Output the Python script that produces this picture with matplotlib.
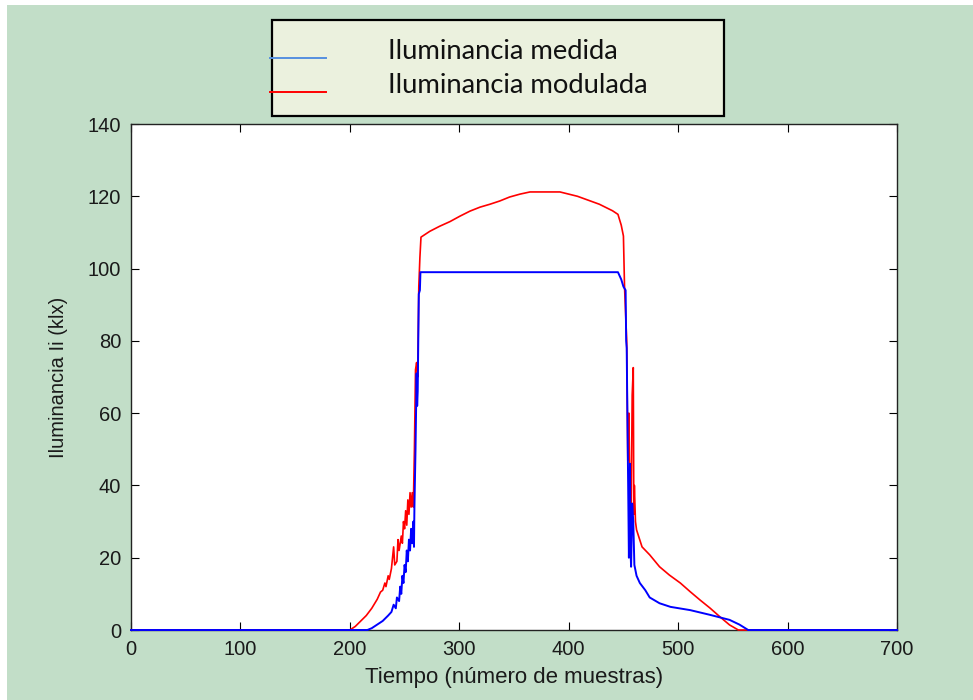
import matplotlib
matplotlib.use("Agg")
import matplotlib.pyplot as plt
from matplotlib.patches import Rectangle
from matplotlib.lines import Line2D

# --------------------------------------------------------------------------------------
# values (sample index vs klx)
MEDIDA_X = [0, 216, 220, 225, 230, 235, 238, 240, 242, 243, 245, 246, 247, 248, 249,
            250, 251, 252, 253, 254, 255, 256, 257, 258, 258.6, 259, 259.5, 260, 261,
            261.5, 262, 263, 264, 264.5,
            445, 448, 450, 452, 452.5, 453, 453.5, 454.5, 455, 455.5, 456, 456.5, 457,
            458, 459, 460, 462, 465, 470, 474, 483, 493, 511, 529, 547, 556, 564, 700]
MEDIDA_Y = [0, 0, 0.5, 1.5, 2.5, 4, 5, 7, 6, 9, 8, 12, 10, 15, 13,
            18, 16, 22, 19, 25, 22, 28, 24, 30, 23, 34, 42, 50, 71,
            62, 66, 93, 94, 99,
            99, 97, 95, 94, 80, 78, 63, 35, 20, 33, 46, 22, 17.5,
            35, 30, 18, 15, 13, 11, 9, 7.4, 6.4, 5.5, 4.2, 2.8, 1.5, 0, 0]

MODULADA_X = [0, 200, 205, 210, 215, 220, 225, 228, 230, 232, 233, 235, 236, 238, 240,
              241, 243, 244, 245, 247, 248, 249, 250, 251, 252, 253, 254, 255, 256,
              257, 258, 259, 260, 261, 262, 263, 264, 265,
              273, 282, 291.5, 300.6, 309.8, 319, 328, 337, 346, 355.5, 364.6, 392,
              408, 428, 440, 445, 448, 450, 451, 453, 454, 455, 456, 457, 458, 459,
              459.5, 460, 461, 462, 467, 474, 483, 492, 502, 511, 520, 529, 538, 547,
              555, 700]
MODULADA_Y = [0, 0, 1, 2.5, 4, 6, 8.5, 10.5, 11, 13, 12, 15, 14, 17, 23,
              18, 19, 25, 22, 26, 24, 30, 28, 33, 29, 36, 32, 38, 34,
              38, 34, 50, 72, 74, 70, 95, 103, 108.7,
              110.3, 111.7, 113, 114.5, 115.9, 117, 117.8, 118.7, 119.8, 120.6, 121.2, 121.2,
              120, 117.8, 116, 115, 112, 109, 95, 80, 47, 60, 35, 30, 65, 72.6,
              32, 40, 30, 27.7, 23, 20.8, 17.5, 15.2, 13, 10.6, 8.3, 6.1, 3.7, 1.4,
              0, 0]

LEGEND_LABELS = ["Iluminancia medida", "Iluminancia modulada"]
X_TICKS = [0, 100, 200, 300, 400, 500, 600, 700]
Y_TICKS = [0, 20, 40, 60, 80, 100, 120, 140]

BG = "#c2dec8"
LEG_BG = "#ebf1de"

fig = plt.figure(figsize=(9.73, 7.0), dpi=100, facecolor=BG)
# thin white margin on the left and top of the screenshot
fig.patches.append(Rectangle((0, 0), 7 / 973, 1, transform=fig.transFigure,
                             facecolor="white", edgecolor="none", zorder=0))
fig.patches.append(Rectangle((0, 1 - 5 / 700), 1, 5 / 700, transform=fig.transFigure,
                             facecolor="white", edgecolor="none", zorder=0))

ax = fig.add_axes([131 / 973, 70 / 700, 766 / 973, 506 / 700])
ax.set_facecolor("white")
# lines above the spines so the zero stretch stays visible along the bottom axis
ax.plot(MODULADA_X, MODULADA_Y, color="#ff0000", lw=1.2, clip_on=False, zorder=3)
ax.plot(MEDIDA_X, MEDIDA_Y, color="#0000ff", lw=1.4, clip_on=False, zorder=3.1)

ax.set_xlim(0, 700)
ax.set_ylim(0, 140)
ax.set_xticks(X_TICKS)
ax.set_yticks(Y_TICKS)
tick_font = {"family": "Liberation Sans", "size": 14.5}
ax.set_xticklabels([str(t) for t in X_TICKS], fontdict=tick_font, color="#1a1a1a")
ax.set_yticklabels([str(t) for t in Y_TICKS], fontdict=tick_font, color="#1a1a1a")
ax.tick_params(direction="in", length=5.5, width=0.8, top=True, right=True, pad=7)
for sp in ax.spines.values():
    sp.set_linewidth(1.0)
    sp.set_color("#222222")

ax.set_xlabel("Tiempo (número de muestras)", family="Liberation Sans", size=16,
              color="#1a1a1a", labelpad=6)
ax.set_ylabel("Iluminancia Ii (klx)", family="Liberation Sans", size=14.5,
              color="#1a1a1a", labelpad=14)

# legend box pasted above the axes
fig.patches.append(Rectangle((272 / 973, 1 - 116 / 700), 452 / 973, 96 / 700,
                             transform=fig.transFigure, facecolor=LEG_BG,
                             edgecolor="black", lw=1.6, zorder=3))
for yy, col, lab in [(58, "#5590e0", LEGEND_LABELS[0]), (92, "#ff0000", LEGEND_LABELS[1])]:
    fig.lines.append(Line2D([270 / 973, 326 / 973], [1 - yy / 700, 1 - yy / 700],
                            transform=fig.transFigure, color=col, lw=1.4, zorder=4))
    fig.text(388 / 973, 1 - (yy + 1) / 700, lab, family="Lato", size=19.7,
             va="baseline", ha="left", color="#111111", zorder=5)

fig.savefig("out.png", dpi=100, facecolor=BG)
